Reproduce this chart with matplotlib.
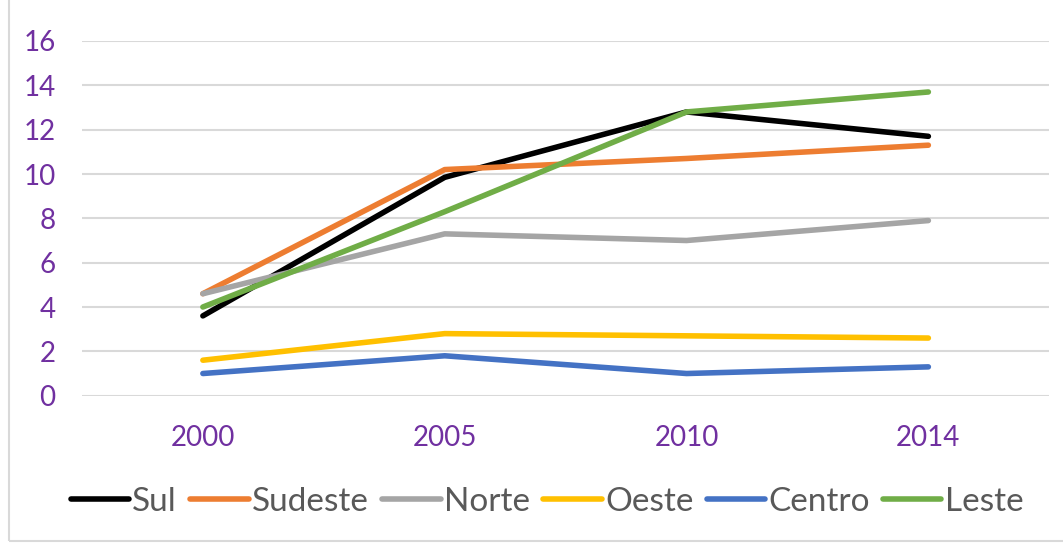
import matplotlib.pyplot as plt
from matplotlib.patches import Rectangle

# data
years = ['2000', '2005', '2010', '2014']
sul = [3.6, 9.85, 12.8, 11.7]
sudeste = [4.6, 10.2, 10.7, 11.3]
norte = [4.6, 7.3, 7.0, 7.9]
oeste = [1.6, 2.8, 2.7, 2.6]
centro = [1.0, 1.8, 1.0, 1.3]
leste = [4.0, 8.3, 12.8, 13.7]

series = [('Sul', sul, '#000000'),
          ('Sudeste', sudeste, '#ED7D31'),
          ('Norte', norte, '#A5A5A5'),
          ('Oeste', oeste, '#FFC000'),
          ('Centro', centro, '#4472C4'),
          ('Leste', leste, '#70AD47')]

plt.rcParams['font.family'] = ['Lato', 'DejaVu Sans']

fig = plt.figure(figsize=(10.63, 5.43), dpi=100)
ax = fig.add_axes([0.0771, 0.2713, 0.91, 0.6532])

x = range(len(years))
for name, vals, col in series:
    ax.plot(x, vals, color=col, lw=4, label=name, solid_capstyle='round', solid_joinstyle='round')

ax.set_xlim(-0.5, len(years) - 0.5)
ax.set_ylim(0, 16)
ax.set_yticks(range(0, 17, 2))
ax.set_xticks(list(x))
ax.set_xticklabels(years)
ax.grid(axis='y', color='#D9D9D9', lw=1.5)
ax.set_axisbelow(True)
for s in ax.spines.values():
    s.set_visible(False)
ax.tick_params(axis='both', length=0, labelcolor='#7030A0', labelsize=20)
ax.tick_params(axis='y', pad=19)
ax.tick_params(axis='x', pad=21)

leg = fig.legend(loc='center', bbox_to_anchor=(0.5146, 0.076), ncol=6, frameon=False,
                 fontsize=24, handlelength=1.75, handletextpad=0.1, columnspacing=0.4)
for t in leg.get_texts():
    t.set_color('#595959')

fig.patches.append(Rectangle((0.008, 0.004), 1.2, 1.2, transform=fig.transFigure,
                             fill=False, edgecolor='#D9D9D9', lw=1.5))

fig.savefig('out.png', dpi=100)
